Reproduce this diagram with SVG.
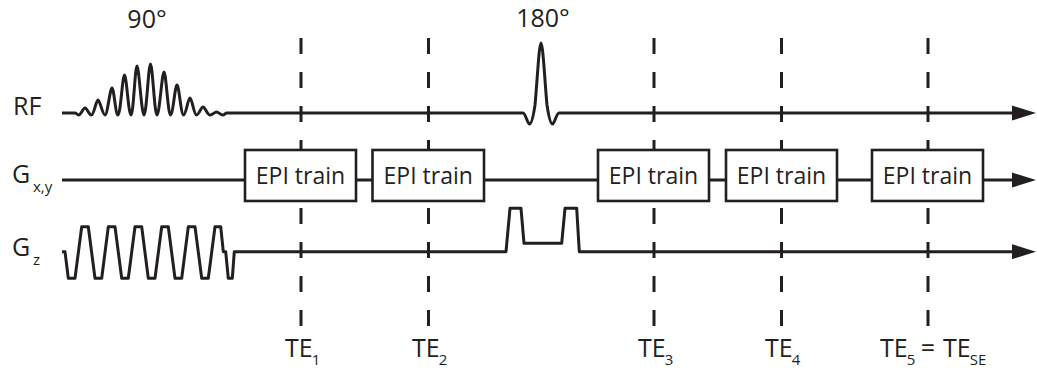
<svg xmlns="http://www.w3.org/2000/svg" width="1037" height="372" viewBox="0 0 1037 372">
<style>
text{font-family:"Open Sans","Noto Sans","Liberation Sans",sans-serif;fill:#231f20}
.lbl{font-size:25px}
.sub{font-size:15px}
.epi{font-size:23px;text-anchor:middle}
.wave{fill:none;stroke:#231f20;stroke-width:3;stroke-linejoin:round;stroke-linecap:butt}
.dash{fill:none;stroke:#231f20;stroke-width:3;stroke-dasharray:16 18}
.box{fill:#fff;stroke:#231f20;stroke-width:2.6}
.head{fill:#231f20}
</style>
<rect width="1037" height="372" fill="#fff"/>
<g id="connectors">
<g id="te-lines">
<line class="dash" x1="301" y1="38" x2="301" y2="326"/>
<line class="dash" x1="428.5" y1="38" x2="428.5" y2="326"/>
<line class="dash" x1="654" y1="38" x2="654" y2="326"/>
<line class="dash" x1="781.5" y1="38" x2="781.5" y2="326"/>
<line class="dash" x1="928" y1="38" x2="928" y2="326"/>
</g>
<path id="rf-line" class="wave" d="M62 113 L75 113 C77 113 77 115 78.5 115 C81 115 83 108 85 108 C87 108 89 115 91.5 115 C94 115 96 100 98 100 C100 100 102.5 115 105 115 C107.5 115 110 88 112 88 C114 88 115.5 115 118 115 C120.5 115 122.5 75 124.5 75 C126.5 75 128.5 115 131 115 C133.5 115 135 66 137 66 C139 66 141.5 115 144 115 C146.5 115 148.5 64 150.5 64 C152.5 64 154.5 115 157 115 C159.5 115 162 72 164 72 C166 72 168 115 170.5 115 C173 115 175 85 177 85 C179 85 181 115 183.5 115 C186 115 188 98 190 98 C192 98 194 115 196.5 115 C199 115 201 107 203 107 C205 107 207.5 115 210 115 C212.5 115 214.5 112 216.5 112 C218.5 112 220.5 115 223 115 C224.5 115 225 113 227 113 L523 113 C525.5 113 527.5 124 529.5 124 C531.5 124 533.5 115 535 105 C537 85 539 43 541 43 C543 43 545 85 547 105 C548.5 115 550.5 124 552.5 124 C554.5 124 556.5 113 559 113 L1016 113"/>
<polygon class="head" points="1012,105.5 1036,113 1012,120.5"/>
<path id="gxy-line" class="wave" d="M62 180 L1016 180"/>
<polygon class="head" points="1012,172.5 1036,180 1012,187.5"/>
<path id="gz-line" class="wave" d="M62 251.7 L65 251.7 L68.3 278.3 L75 278.3 L81.7 226.7 L88.3 226.7 L95 278.3 L101.7 278.3 L108.3 226.7 L115 226.7 L121.7 278.3 L128.3 278.3 L135 226.7 L141.7 226.7 L148.3 278.3 L155 278.3 L161.7 226.7 L168.3 226.7 L175 278.3 L181.7 278.3 L188.3 226.7 L195 226.7 L201.7 278.3 L208.3 278.3 L215 226.7 L220.7 226.7 L223.3 251.7 L225.7 251.7 L228.3 278.3 L232.3 278.3 L234.3 251.7 L506 251.7 L510 208.3 L521 208.3 L524 243.3 L561.7 243.3 L565 208.3 L576.7 208.3 L579.3 251.7 L1016 251.7"/>
<polygon class="head" points="1012,244.2 1036,251.7 1012,259.2"/>
</g>
<g id="epi1"><rect class="box" x="245" y="150" width="111" height="51"/><text class="epi" x="300.5" y="184">EPI train</text></g>
<g id="epi2"><rect class="box" x="372.5" y="150" width="111.5" height="51"/><text class="epi" x="428.2" y="184">EPI train</text></g>
<g id="epi3"><rect class="box" x="598" y="150" width="111" height="51"/><text class="epi" x="653.5" y="184">EPI train</text></g>
<g id="epi4"><rect class="box" x="726" y="150" width="111" height="51"/><text class="epi" x="781.5" y="184">EPI train</text></g>
<g id="epi5"><rect class="box" x="872" y="150" width="111" height="51"/><text class="epi" x="927.5" y="184">EPI train</text></g>
<g id="labels">
<text class="lbl" x="147" y="28" text-anchor="middle">90°</text>
<text class="lbl" x="543" y="27" text-anchor="middle">180°</text>
<text class="lbl" x="13" y="115">RF</text>
<text class="lbl" x="12" y="183">G</text><text class="sub" x="33" y="192">x,y</text>
<text class="lbl" x="12" y="256">G</text><text class="sub" x="33" y="265">z</text>
<text class="lbl" x="285" y="357">TE<tspan class="sub" dy="8" dx="-1">1</tspan></text>
<text class="lbl" x="412" y="357">TE<tspan class="sub" dy="8" dx="-1">2</tspan></text>
<text class="lbl" x="638" y="357">TE<tspan class="sub" dy="8" dx="-1">3</tspan></text>
<text class="lbl" x="765" y="357">TE<tspan class="sub" dy="8" dx="-1">4</tspan></text>
<text class="lbl" x="880" y="357">TE<tspan class="sub" dy="8" dx="-1">5</tspan></text>
<text class="lbl" x="928" y="357" text-anchor="middle" font-size="27">=</text>
<text class="lbl" x="943" y="357">TE<tspan class="sub" dy="8" dx="-1">SE</tspan></text>
</g>
</svg>
